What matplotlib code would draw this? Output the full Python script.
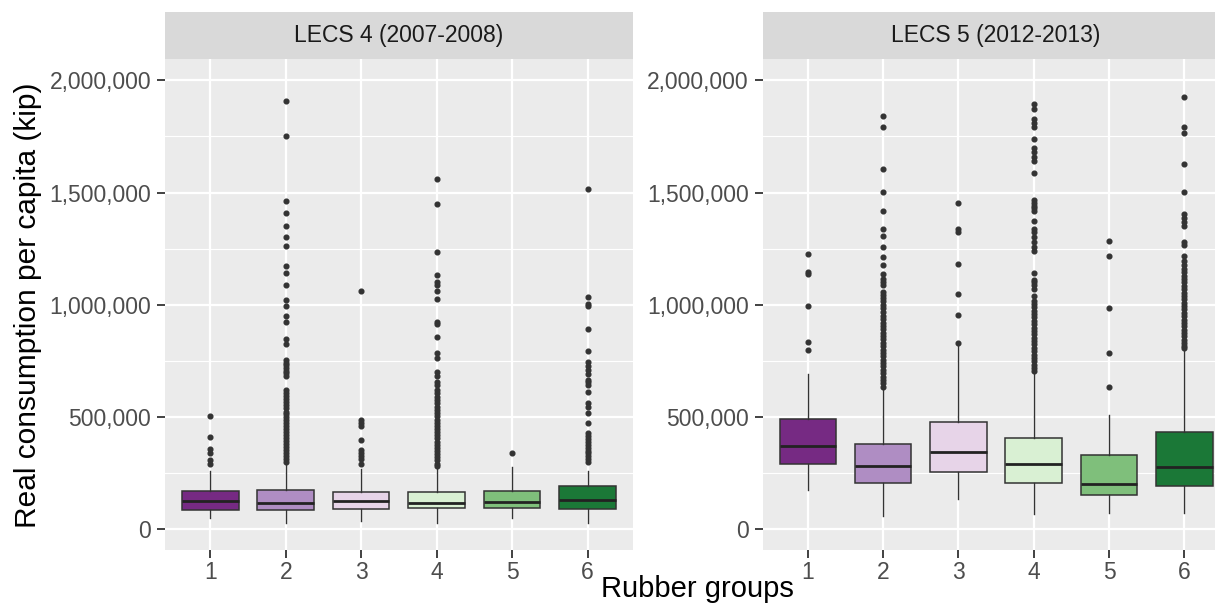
import matplotlib
matplotlib.use('Agg')
import matplotlib.pyplot as plt
import numpy as np

plt.rcParams['font.family'] = ['Liberation Sans', 'DejaVu Sans']

# 分组和面板
groups = ['1', '2', '3', '4', '5', '6']
panels = ['LECS 4 (2007-2008)', 'LECS 5 (2012-2013)']
box_colors = ['#762A83', '#AF8DC3', '#E7D4E8', '#D9F0D3', '#7FBF7B', '#1B7837']

# 箱线图统计量 (千 kip): q1, median, q3, 下须, 上须
lecs4_q1 = [86, 85, 88, 92, 92, 88]
lecs4_med = [123, 118, 123, 116, 120, 129]
lecs4_q3 = [169, 176, 166, 166, 169, 190]
lecs4_lo = [49, 26, 35, 28, 49, 26]
lecs4_hi = [257, 296, 270, 275, 278, 261]

lecs5_q1 = [289, 206, 254, 206, 150, 190]
lecs5_med = [370, 282, 344, 292, 199, 278]
lecs5_q3 = [490, 381, 479, 407, 331, 432]
lecs5_lo = [176, 58, 134, 67, 70, 70]
lecs5_hi = [692, 640, 816, 701, 507, 793]

# 离群点 (千 kip)
lecs4_out = [
    [502, 410, 355, 340, 310, 292],
    [1910, 1753, 1461, 1410, 1350, 1300, 1262, 1173, 1142, 1089, 1022, 992, 948,
     921, 848, 825, 754, 742, 730, 718, 705, 694, 684, 622, 607, 592, 578, 565,
     551, 538, 524, 511, 498, 484, 471, 458, 445, 432, 418, 405, 392, 379, 366,
     352, 339, 326, 313, 300],
    [1059, 485, 472, 460, 398, 352, 340, 326, 314, 292],
    [1559, 1447, 1235, 1133, 1100, 1089, 1062, 1027, 925, 913, 855, 784, 763,
     701, 684, 657, 640, 622, 605, 590, 575, 560, 545, 530, 516, 502, 488, 474,
     460, 446, 432, 418, 404, 390, 376, 362, 348, 334, 320, 306, 292, 280],
    [340],
    [1515, 1036, 1004, 992, 892, 795, 745, 728, 710, 692, 666, 657, 640, 613,
     560, 543, 516, 472, 428, 415, 402, 389, 376, 363, 350, 337, 324, 311, 298],
]
lecs5_out = [
    [1226, 1145, 1136, 992, 832, 798],
    [1843, 1794, 1603, 1503, 1418, 1336, 1304, 1256, 1212, 1177, 1136, 1115,
     1100, 1089, 1057, 1045, 1032, 1018, 1000, 985, 966, 950, 935, 920, 905,
     890, 875, 860, 845, 830, 815, 800, 785, 770, 755, 740, 725, 710, 695, 680,
     665, 650, 635],
    [1455, 1336, 1325, 1180, 1048, 953, 828],
    [1896, 1873, 1829, 1811, 1794, 1737, 1697, 1680, 1660, 1639, 1589, 1468,
     1455, 1441, 1430, 1416, 1371, 1336, 1324, 1302, 1280, 1258, 1239, 1142,
     1110, 1100, 1089, 1071, 1040, 1018, 1003, 988, 973, 958, 943, 928, 913,
     898, 883, 868, 853, 838, 823, 808, 793, 778, 763, 748, 733, 718, 706],
    [1283, 1216, 987, 784, 634],
    [1926, 1790, 1766, 1626, 1503, 1406, 1388, 1367, 1350, 1279, 1265, 1216,
     1195, 1177, 1159, 1144, 1129, 1114, 1099, 1084, 1069, 1054, 1039, 1024,
     1009, 994, 979, 964, 949, 934, 919, 904, 889, 874, 859, 844, 829, 814, 807],
]

yticks = [0, 500000, 1000000, 1500000, 2000000]
ytick_labels = ['0', '500,000', '1,000,000', '1,500,000', '2,000,000']


def make_stats(q1, med, q3, lo, hi, out):
    stats = []
    for i in range(len(groups)):
        stats.append({
            'q1': q1[i] * 1000, 'med': med[i] * 1000, 'q3': q3[i] * 1000,
            'whislo': lo[i] * 1000, 'whishi': hi[i] * 1000,
            'fliers': np.array(out[i]) * 1000.0,
        })
    return stats


W, H = 1215, 604
fig = plt.figure(figsize=(W / 100, H / 100), dpi=100)


def px_axes(x0, y0, x1, y1):
    # 像素坐标 (左上为原点) 转换为 figure 比例
    return fig.add_axes([x0 / W, 1 - y1 / H, (x1 - x0) / W, (y1 - y0) / H])


panel_x = [(165, 632.8), (762.6, 1229.5)]
panel_top, panel_bottom = 59, 550.4
strip_top = 12.3

all_stats = [
    make_stats(lecs4_q1, lecs4_med, lecs4_q3, lecs4_lo, lecs4_hi, lecs4_out),
    make_stats(lecs5_q1, lecs5_med, lecs5_q3, lecs5_lo, lecs5_hi, lecs5_out),
]

for k in range(2):
    x0, x1 = panel_x[k]
    ax = px_axes(x0, panel_top, x1, panel_bottom)
    ax.set_facecolor('#EBEBEB')
    for sp in ax.spines.values():
        sp.set_visible(False)

    # 网格线
    for v in [250000, 750000, 1250000, 1750000]:
        ax.axhline(v, color='white', lw=0.8, zorder=0)
    for v in yticks:
        ax.axhline(v, color='white', lw=1.6, zorder=0)
    for i in range(len(groups)):
        ax.axvline(i + 1, color='white', lw=1.6, zorder=0)

    bp = ax.bxp(all_stats[k], positions=np.arange(1, 7), widths=0.75,
                patch_artist=True, showfliers=True,
                boxprops=dict(edgecolor='#333333', linewidth=1.1),
                medianprops=dict(color='#222222', linewidth=2.0),
                whiskerprops=dict(color='#333333', linewidth=1.0),
                capprops=dict(linewidth=0),
                flierprops=dict(marker='o', markersize=3.4,
                                markerfacecolor='#333333',
                                markeredgecolor='#333333'))
    for patch, c in zip(bp['boxes'], box_colors):
        patch.set_facecolor(c)
        patch.set_zorder(2)

    ax.set_xlim(0.4, 6.6)
    ax.set_ylim(-95000, 2095000)
    ax.set_xticks(np.arange(1, 7))
    ax.set_xticklabels(groups)
    ax.set_yticks(yticks)
    ax.set_yticklabels(ytick_labels)
    ax.tick_params(axis='both', colors='#333333', length=5.5, width=1.3,
                   labelsize=16.5, labelcolor='#4D4D4D')
    ax.tick_params(axis='y', pad=4.5)
    ax.tick_params(axis='x', pad=2)

    # 面板标题条
    sax = px_axes(x0, strip_top, x1, panel_top)
    sax.set_facecolor('#D9D9D9')
    sax.set_xticks([])
    sax.set_yticks([])
    for sp in sax.spines.values():
        sp.set_visible(False)
    sax.text(0.5, 0.5, panels[k], ha='center', va='center',
             fontsize=16.5, color='#1A1A1A', transform=sax.transAxes)

fig.text(28 / W, 1 - 305 / H, 'Real consumption per capita (kip)',
         rotation=90, ha='center', va='center', fontsize=21.5, color='black')
fig.text(697 / W, 1 - 597 / H, 'Rubber groups', ha='center', va='baseline',
         fontsize=21, color='black')

fig.savefig('out.png', dpi=100)
